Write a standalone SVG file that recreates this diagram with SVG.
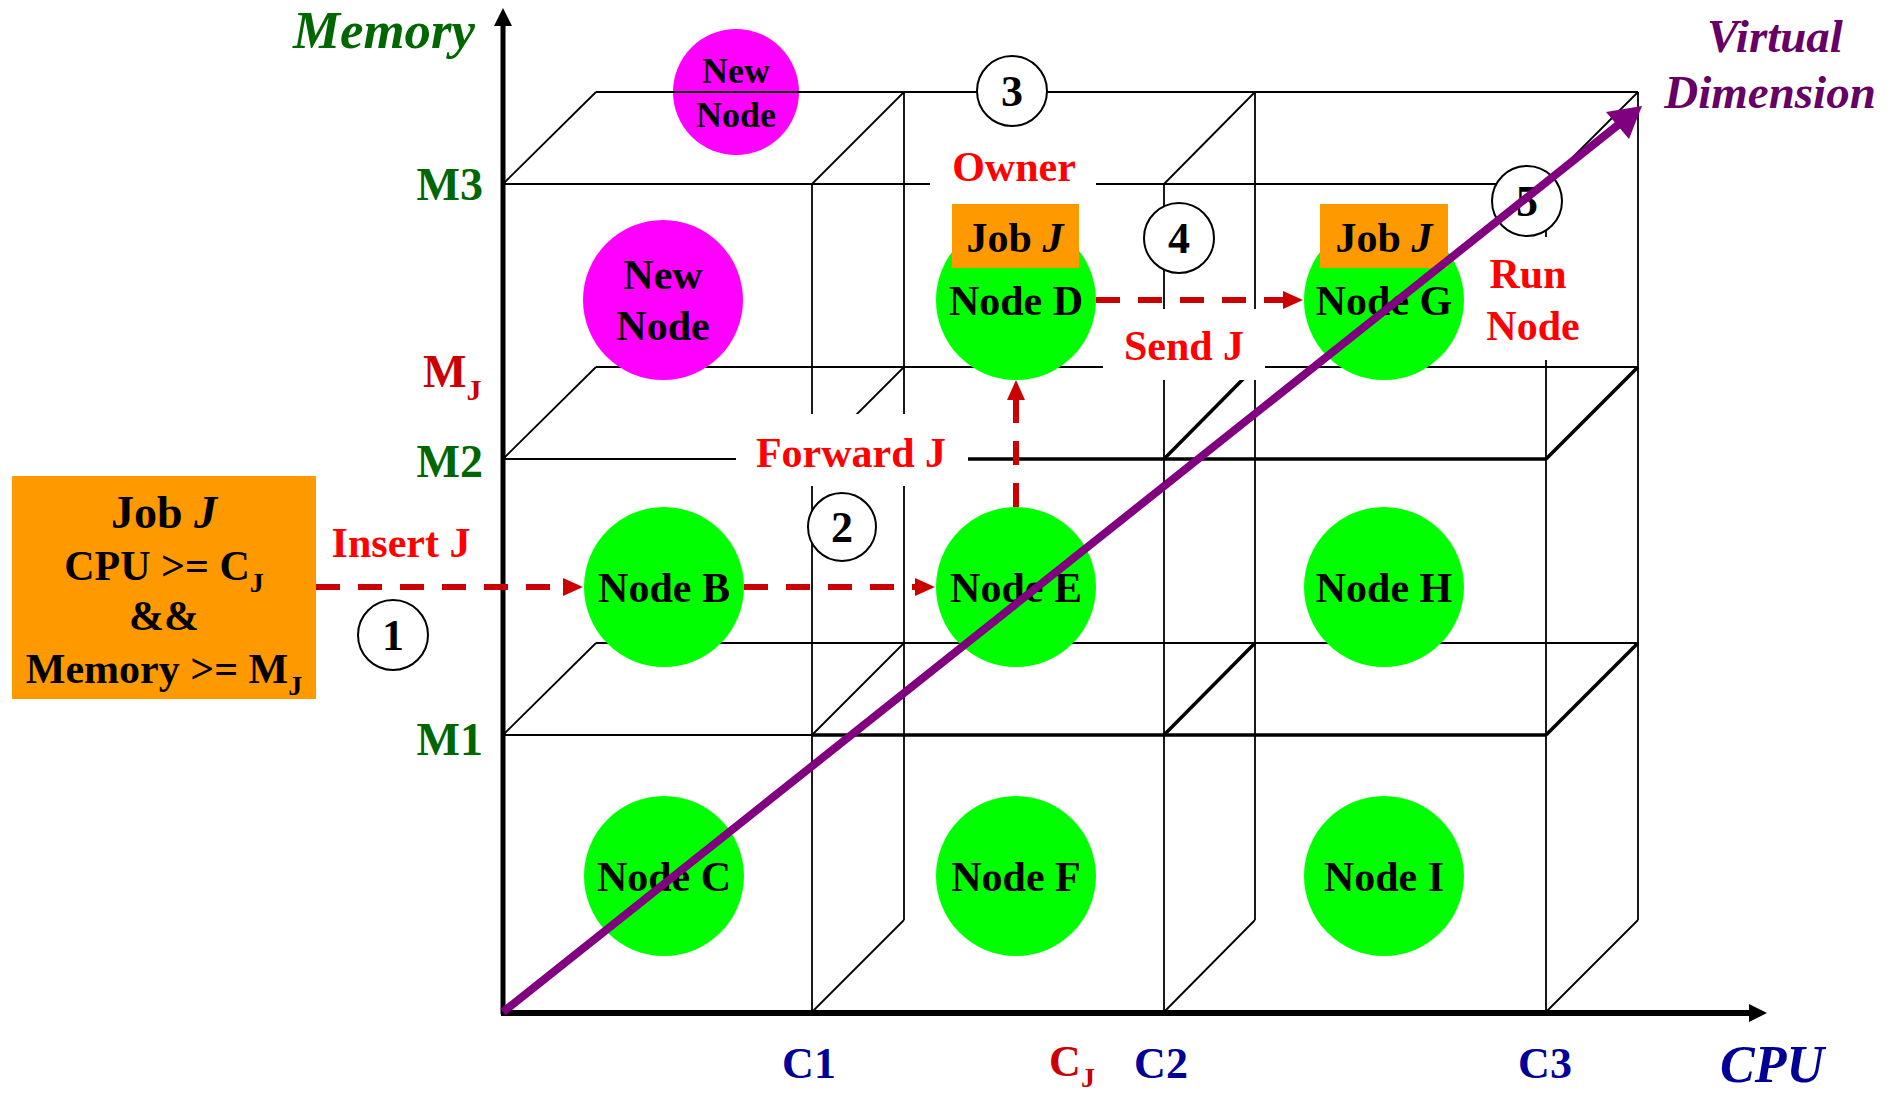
<svg xmlns="http://www.w3.org/2000/svg" width="1900" height="1093" viewBox="0 0 1900 1093">
<defs>
<style>
text{font-family:"Liberation Serif","Times New Roman",serif;font-weight:bold}
.g{stroke:#000;stroke-width:1.8;fill:none}
.gt{stroke:#000;stroke-width:3.5;fill:none}
.node{fill:#00FF00}
.new{fill:#FF00FF}
.job{fill:#FF9900}
.lbl{font-size:42px;fill:#000;text-anchor:middle}
.red{font-size:42px;fill:#FF0000;text-anchor:middle}
.wb{fill:#fff}
.num{fill:#fff;stroke:#000;stroke-width:2}
.numt{font-size:44px;fill:#000;text-anchor:middle}
.mlab{font-size:46px;fill:#006600;text-anchor:end}
.clab{font-size:44px;fill:#000099;text-anchor:middle}
.dash{stroke:#CC0000;stroke-width:6;stroke-dasharray:24 18;fill:none;marker-end:url(#ah)}
</style>
<marker id="ah" viewBox="0 0 20 18" refX="0" refY="9" markerWidth="20" markerHeight="18" markerUnits="userSpaceOnUse" orient="auto">
<path d="M0,0 L20,9 L0,18 Z" fill="#CC0000"/>
</marker>
</defs>
<rect width="1900" height="1093" fill="#fff"/>

<!-- top new node (under grid lines) -->
<g id="node-new-top">
<circle cx="736" cy="92" r="63" class="new"/>
<text x="736" y="83" class="lbl" style="font-size:36px">New</text>
<text x="736" y="127" class="lbl" style="font-size:36px">Node</text>
</g>

<!-- grid -->
<g id="grid">
<line class="g" x1="503" y1="184" x2="1546" y2="184"/>
<line class="g" x1="596" y1="92" x2="1638" y2="92"/>
<line class="g" x1="503" y1="184" x2="596" y2="92"/>
<line class="g" x1="812" y1="184" x2="904" y2="92"/>
<line class="g" x1="1164" y1="184" x2="1255" y2="92"/>
<line class="g" x1="1546" y1="184" x2="1638" y2="92"/>

<line class="g" x1="503" y1="459" x2="1546" y2="459"/>
<line class="gt" x1="968" y1="459" x2="1546" y2="459"/>
<line class="g" x1="596" y1="367" x2="1638" y2="367"/>
<line class="g" x1="503" y1="459" x2="596" y2="367"/>
<line class="g" x1="812" y1="459" x2="904" y2="367"/>
<line class="gt" x1="1164" y1="459" x2="1255" y2="367"/>
<line class="gt" x1="1546" y1="459" x2="1638" y2="367"/>

<line class="g" x1="503" y1="735" x2="1546" y2="735"/>
<line class="gt" x1="812" y1="735" x2="1546" y2="735"/>
<line class="g" x1="596" y1="643" x2="1638" y2="643"/>
<line class="g" x1="503" y1="735" x2="596" y2="643"/>
<line class="g" x1="812" y1="735" x2="904" y2="643"/>
<line class="gt" x1="1164" y1="735" x2="1255" y2="643"/>
<line class="gt" x1="1546" y1="735" x2="1638" y2="643"/>

<line class="g" x1="812" y1="1012" x2="904" y2="920"/>
<line class="g" x1="1164" y1="1012" x2="1255" y2="920"/>
<line class="g" x1="1546" y1="1012" x2="1638" y2="920"/>

<line class="g" x1="812" y1="184" x2="812" y2="1012"/>
<line class="g" x1="1164" y1="184" x2="1164" y2="1012"/>
<line class="g" x1="1546" y1="184" x2="1546" y2="1012"/>
<line class="g" x1="904" y1="92" x2="904" y2="920"/>
<line class="g" x1="1255" y1="92" x2="1255" y2="920"/>
<line class="g" x1="1638" y1="92" x2="1638" y2="920"/>
</g>

<!-- axes -->
<g id="axes">
<line x1="503" y1="1014" x2="503" y2="24" stroke="#000" stroke-width="5"/>
<polygon points="503,8 494,26 512,26" fill="#000"/>
<line x1="501" y1="1013" x2="1752" y2="1013" stroke="#000" stroke-width="6"/>
<polygon points="1767,1013 1749,1004 1749,1022" fill="#000"/>
<text x="293" y="48" textLength="182" lengthAdjust="spacingAndGlyphs" style="font-size:52px;font-style:italic;fill:#006600">Memory</text>
<text x="483" y="200" class="mlab">M3</text>
<text x="483" y="477" class="mlab">M2</text>
<text x="483" y="755" class="mlab">M1</text>
<text x="423" y="387" style="font-size:46px;fill:#CC0000">M<tspan style="font-size:30px" dy="13">J</tspan></text>
<text x="809" y="1078" class="clab">C1</text>
<text x="1161" y="1078" class="clab">C2</text>
<text x="1545" y="1078" class="clab">C3</text>
<text x="1072" y="1076" class="clab" style="fill:#CC0000">C<tspan style="font-size:28px" dy="11">J</tspan></text>
<text x="1720" y="1082" style="font-size:52px;font-style:italic;fill:#000099">CPU</text>
<text x="1775" y="52" style="font-size:47px;font-style:italic;fill:#660066;text-anchor:middle">Virtual</text>
<text x="1770" y="108" style="font-size:47px;font-style:italic;fill:#660066;text-anchor:middle">Dimension</text>
</g>

<!-- labels with white backgrounds -->
<g id="labels">
<rect class="wb" x="930" y="148" width="166" height="42"/>
<text x="1014" y="181" class="red">Owner</text>
<rect class="wb" x="736" y="414" width="232" height="72"/>
<text x="851" y="467" class="red">Forward J</text>
<rect class="wb" x="1103" y="309" width="162" height="71"/>
<text x="1184" y="360" class="red">Send J</text>
<rect class="wb" x="1482" y="237" width="110" height="123"/>
<text x="1528" y="288" class="red">Run</text>
<text x="1533" y="340" class="red">Node</text>
<text x="401" y="557" class="red">Insert J</text>
</g>

<!-- job box -->
<g id="job-j">
<rect class="job" x="12" y="476" width="304" height="223"/>
<text x="164" y="528" class="lbl" style="font-size:46px">Job <tspan font-style="italic">J</tspan></text>
<text x="164" y="580" class="lbl">CPU &gt;= C<tspan style="font-size:28px" dy="12">J</tspan></text>
<text x="164" y="630" class="lbl">&amp;&amp;</text>
<text x="164" y="683" class="lbl">Memory &gt;= M<tspan style="font-size:28px" dy="12">J</tspan></text>
</g>

<!-- nodes -->
<g id="node-new-mid">
<circle cx="663" cy="300" r="80" class="new"/>
<text x="663" y="289" class="lbl">New</text>
<text x="663" y="340" class="lbl">Node</text>
</g>
<g id="node-d">
<circle cx="1016" cy="300" r="80" class="node"/>
<text x="1016" y="315" class="lbl">Node D</text>
<rect class="job" x="952" y="204" width="127" height="64"/>
<text x="1015" y="252" class="lbl">Job <tspan font-style="italic">J</tspan></text>
</g>
<g id="node-g">
<circle cx="1384" cy="300" r="80" class="node"/>
<text x="1384" y="315" class="lbl">Node G</text>
<rect class="job" x="1320" y="204" width="128" height="64"/>
<text x="1384" y="252" class="lbl">Job <tspan font-style="italic">J</tspan></text>
</g>
<g id="node-b">
<circle cx="664" cy="587" r="80" class="node"/>
<text x="664" y="602" class="lbl">Node B</text>
</g>
<g id="node-e">
<circle cx="1016" cy="587" r="80" class="node"/>
<text x="1016" y="602" class="lbl">Node E</text>
</g>
<g id="node-h">
<circle cx="1384" cy="587" r="80" class="node"/>
<text x="1384" y="602" class="lbl">Node H</text>
</g>
<g id="node-c">
<circle cx="664" cy="876" r="80" class="node"/>
<text x="664" y="891" class="lbl">Node C</text>
</g>
<g id="node-f">
<circle cx="1016" cy="876" r="80" class="node"/>
<text x="1016" y="891" class="lbl">Node F</text>
</g>
<g id="node-i">
<circle cx="1384" cy="876" r="80" class="node"/>
<text x="1384" y="891" class="lbl">Node I</text>
</g>

<!-- step markers -->
<g id="step-1"><circle cx="393" cy="635" r="35" class="num"/><text x="393" y="650" class="numt">1</text></g>
<g id="step-2"><circle cx="842" cy="527" r="34" class="num"/><text x="842" y="542" class="numt">2</text></g>
<g id="step-3"><circle cx="1012" cy="91" r="35" class="num"/><text x="1012" y="106" class="numt">3</text></g>
<g id="step-4"><circle cx="1179" cy="238" r="35" class="num"/><text x="1179" y="253" class="numt">4</text></g>
<g id="step-5"><circle cx="1527" cy="201" r="35" class="num"/><text x="1527" y="216" class="numt">5</text></g>

<!-- connectors -->
<g id="connectors">
<line class="dash" x1="316" y1="587" x2="563" y2="587"/>
<line class="dash" x1="744" y1="587" x2="915" y2="587"/>
<line class="dash" x1="1016" y1="507" x2="1016" y2="400"/>
<line class="dash" x1="1096" y1="300" x2="1283" y2="300"/>
<line x1="503" y1="1012" x2="1618" y2="125" stroke="#800080" stroke-width="8"/>
<polygon points="1642,106 1606,112 1629,139" fill="#800080"/>
</g>
</svg>
